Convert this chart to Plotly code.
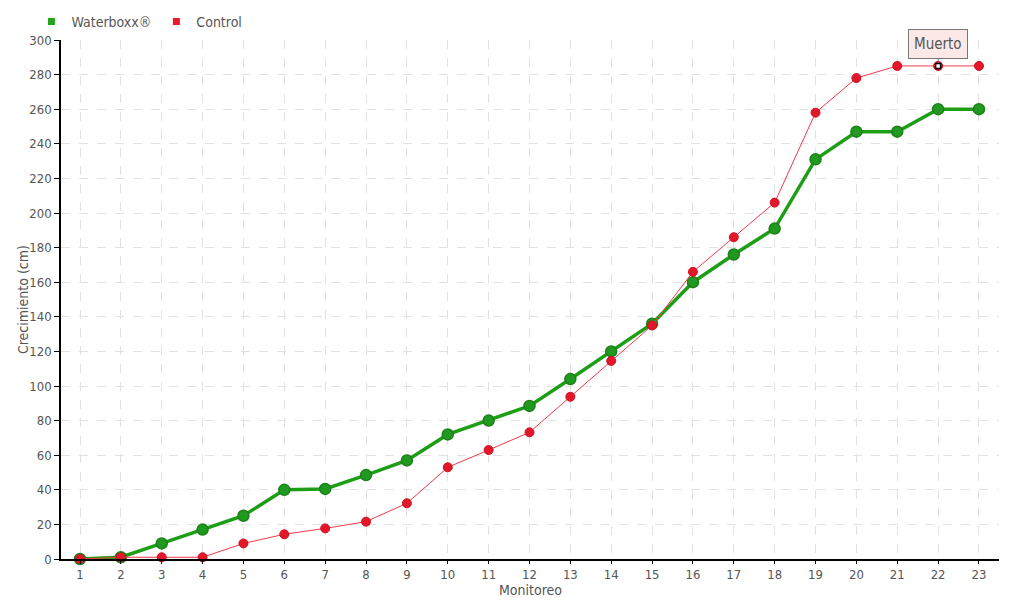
import plotly.graph_objects as go

monitoreo = list(range(1, 24))
waterboxx = [0, 1, 9, 17, 25, 40, 40.5, 48.5, 57, 72, 80, 88.5, 104, 120, 136,
             160, 176, 191, 231, 247, 247, 260, 260]
control = [0, 1, 1, 1, 9, 14.3, 17.7, 21.6, 32.2, 53, 63, 73.2, 93.8, 114.5, 135,
           166, 186, 206, 258, 278, 285, 285, 285]
muerto_idx = 21  # monitoreo 22
y_ticks = list(range(0, 301, 20))

FONT = "DejaVu Sans Condensed, Liberation Sans Narrow, sans-serif"
GREEN = "#1e9e16"
GREEN_DARK = "#1f7f1a"
RED = "#f03a4c"
RED_MARK = "#e3172a"

fig = go.Figure()

fig.add_trace(go.Scatter(
    x=monitoreo, y=waterboxx, mode="lines+markers", name="Waterboxx®",
    line=dict(color=GREEN, width=3.5),
    marker=dict(size=11, color="#1f9a1f", line=dict(color=GREEN_DARK, width=1.5)),
    cliponaxis=False, showlegend=False))

fig.add_trace(go.Scatter(
    x=monitoreo, y=control, mode="lines+markers", name="Control",
    line=dict(color=RED, width=1),
    marker=dict(size=9, color=RED_MARK, line=dict(color="#d01020", width=1)),
    cliponaxis=False, showlegend=False))

fig.add_trace(go.Scatter(
    x=[monitoreo[muerto_idx]], y=[control[muerto_idx]], mode="markers",
    marker=dict(symbol="square", size=5, color="white", line=dict(color="black", width=1.5)),
    showlegend=False, hoverinfo="skip", cliponaxis=False))

# legend entries (square swatches)
fig.add_trace(go.Scatter(x=[None], y=[None], mode="markers", name="Waterboxx®",
                         marker=dict(symbol="square", size=7, color="#22a51c")))
fig.add_trace(go.Scatter(x=[None], y=[None], mode="markers", name="Control",
                         marker=dict(symbol="square", size=7, color="#f0182c")))

fig.add_annotation(
    x=monitoreo[muerto_idx], y=control[muerto_idx], text="Muerto",
    showarrow=True, arrowhead=0, arrowwidth=1, arrowcolor="#777",
    ax=0, ay=-22, standoff=3,
    bgcolor="#fde8e8", bordercolor="#777", borderwidth=1, borderpad=5,
    font=dict(family=FONT, size=15, color="#555"))

fig.add_annotation(
    xref="paper", yref="paper", x=0.5, y=-0.042, xanchor="center", yanchor="top",
    borderpad=0, text="Monitoreo", showarrow=False,
    font=dict(family=FONT, size=14, color="#555"))
fig.add_annotation(
    xref="paper", yref="paper", x=-0.041, y=0.5, xanchor="center", yanchor="middle",
    textangle=-90, text="Crecimiento (cm)", showarrow=False,
    font=dict(family=FONT, size=14, color="#555"))

# page body has an 8px offset; compensate in margins
fig.update_layout(
    width=1020, height=600,
    margin=dict(l=53, r=29, t=32, b=49, autoexpand=False),
    paper_bgcolor="white", plot_bgcolor="white",
    font=dict(family=FONT, size=14, color="#555"),
    legend=dict(orientation="h", x=-0.0315, xanchor="left", y=1.035, yanchor="middle",
                font=dict(family=FONT, size=14, color="#555"),
                itemwidth=30, tracegroupgap=0, bgcolor="rgba(0,0,0,0)"),
    xaxis=dict(
        range=[0.535, 23.49], tickmode="array", tickvals=monitoreo,
        ticktext=[str(m) for m in monitoreo], automargin=False,
        showline=True, linecolor="black", linewidth=1.5,
        ticks="outside", ticklen=3, tickcolor="black",
        showgrid=True, gridcolor="#e2e2e2", griddash="dash", zeroline=False,
        tickfont=dict(size=13, color="#555")),
    yaxis=dict(
        range=[0, 300], tickmode="array", tickvals=y_ticks, automargin=False,
        showline=True, linecolor="black", linewidth=1.5,
        ticks="outside", ticklen=5, tickcolor="black",
        showgrid=True, gridcolor="#e2e2e2", griddash="dash", zeroline=False,
        tickfont=dict(size=13, color="#555")),
)

fig.write_html("out.html")
